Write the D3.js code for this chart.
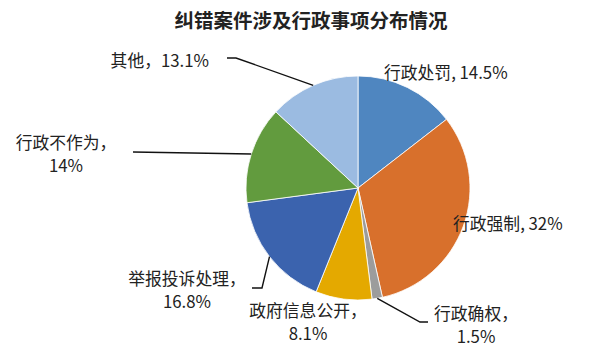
<!DOCTYPE html>
<html>
<head>
<meta charset="utf-8">
<script src="https://cdn.jsdelivr.net/npm/d3@7"></script>
<style>
  html, body { margin: 0; padding: 0; background: #fff; }
  svg { display: block; }
  text { font-family: "Noto Sans CJK SC", "Noto Sans", sans-serif; fill: #222; }
</style>
</head>
<body>
<svg id="chart" width="600" height="351"></svg>
<script>
// ---- data ----
const title = "纠错案件涉及行政事项分布情况";
const categories = ["行政处罚", "行政强制", "行政确权", "政府信息公开", "举报投诉处理", "行政不作为", "其他"];
const values = [14.5, 32, 1.5, 8.1, 16.8, 14, 13.1];
const valueLabels = ["14.5%", "32%", "1.5%", "8.1%", "16.8%", "14%", "13.1%"];

// ---- styling / layout (separate from data) ----
const colors = ["#4f86c0", "#d8702c", "#9c9c9c", "#e4a900", "#3b63ae", "#629b3e", "#9bbbe1"];
const W = 600, H = 351;
const cx = 358, cy = 188, R = 112;
// label layout: anchor point, alignment, line split, leader elbow points
const labelLayout = [
  { x: 384, y: 72, anchor: "start", lines: (c, v) => [c + ", " + v] },
  { x: 453, y: 223, anchor: "start", lines: (c, v) => [c + ", " + v] },
  { x: 476, y: 313, anchor: "middle", lines: (c, v) => [c + "，", v], elbow: [[420, 322], [428, 322]] },
  { x: 308, y: 310, anchor: "middle", lines: (c, v) => [c + "，", v] },
  { x: 187, y: 278, anchor: "middle", lines: (c, v) => [c + "，", v], elbow: [[262, 288], [252, 288]] },
  { x: 66, y: 142, anchor: "middle", lines: (c, v) => [c + "，", v], elbow: [[133, 152]] },
  { x: 209, y: 60, anchor: "end", lines: (c, v) => [c + "，" + v], elbow: [[236, 58], [227, 58]] }
];
const lineGap = 23;

const svg = d3.select("#chart");

svg.append("text")
  .attr("x", 311).attr("y", 28)
  .attr("text-anchor", "middle")
  .style("font-size", "19.5px").style("font-weight", "bold")
  .text(title);

const pie = d3.pie().sort(null).value(d => d);
const arcs = pie(values);
const arc = d3.arc().innerRadius(0).outerRadius(R);

const g = svg.append("g").attr("transform", `translate(${cx},${cy})`);
g.selectAll("path").data(arcs).enter().append("path")
  .attr("d", arc)
  .attr("fill", (d, i) => colors[i])
  .attr("stroke", "#fff").attr("stroke-width", 0.8);

// leader lines
const edge = d3.arc().innerRadius(R).outerRadius(R);
arcs.forEach((d, i) => {
  const L = labelLayout[i];
  if (!L.elbow) return;
  const [ex, ey] = edge.centroid(d);
  const pts = [[cx + ex, cy + ey]].concat(L.elbow);
  svg.append("path")
    .attr("d", d3.line()(pts))
    .attr("fill", "none").attr("stroke", "#111").attr("stroke-width", 1.4);
});

// labels
categories.forEach((c, i) => {
  const L = labelLayout[i];
  const lines = L.lines(c, valueLabels[i]);
  const t = svg.append("text")
    .attr("text-anchor", L.anchor)
    .style("font-size", "16.8px");
  lines.forEach((ln, k) => {
    t.append("tspan")
      .attr("x", L.x)
      .attr("y", L.y + k * lineGap)
      .attr("dominant-baseline", "central")
      .text(ln);
  });
});
</script>
</body>
</html>
